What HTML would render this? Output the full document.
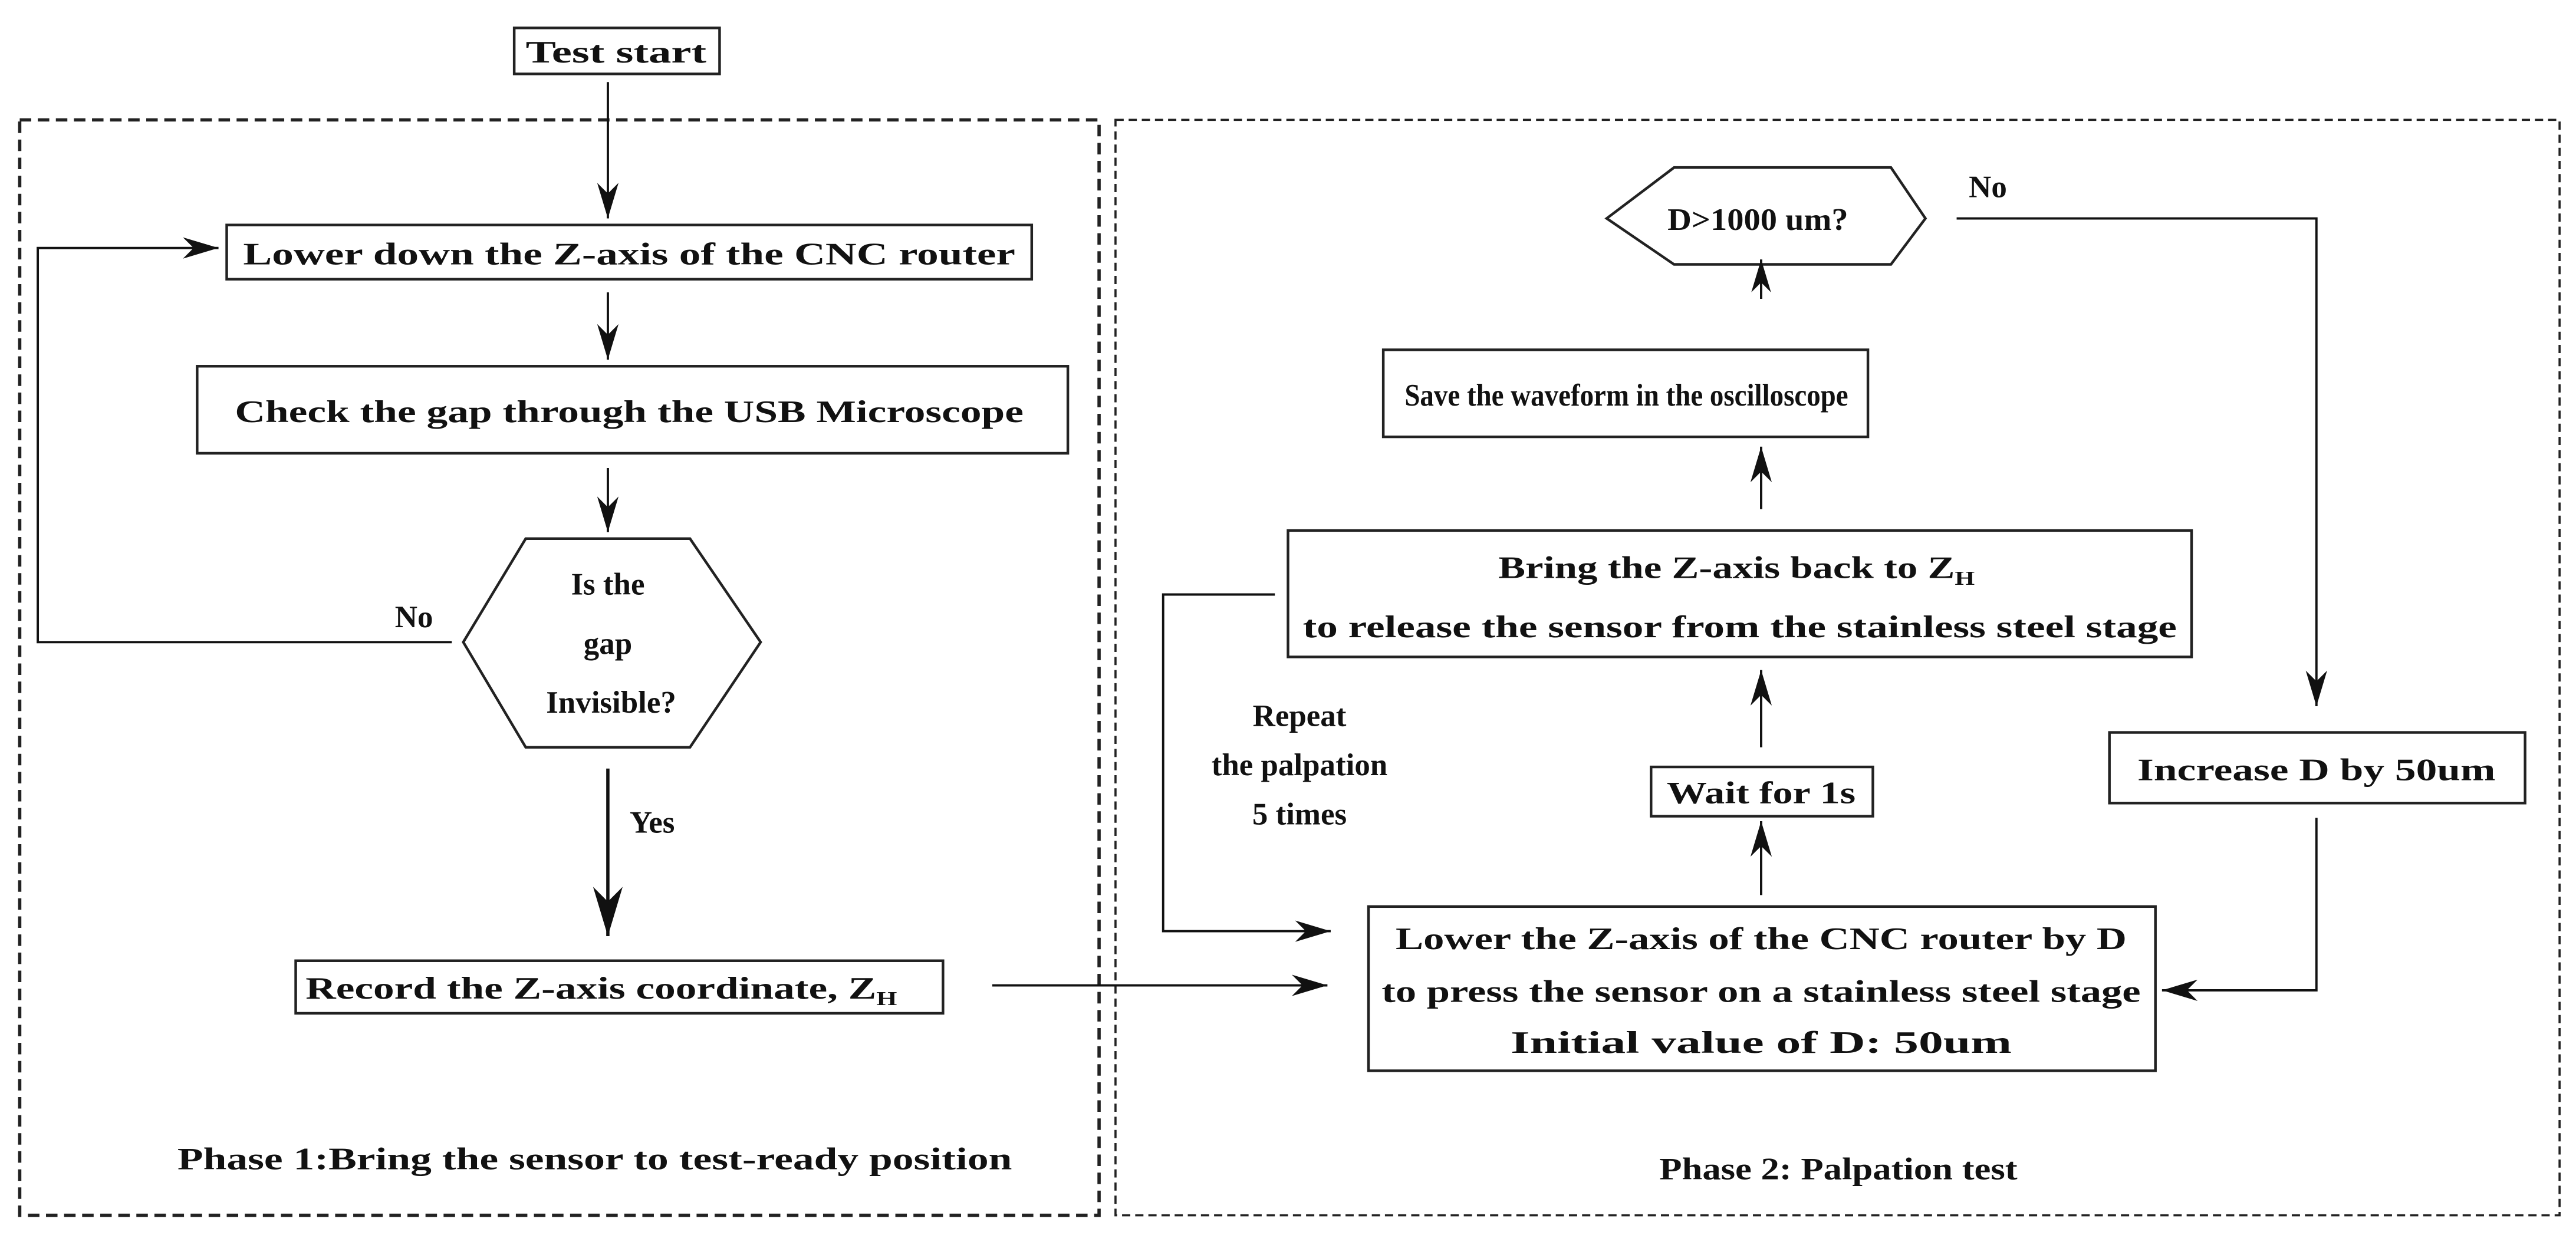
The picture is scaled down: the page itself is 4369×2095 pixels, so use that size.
<!DOCTYPE html>
<html><head><meta charset="utf-8"><style>
html,body{margin:0;padding:0;background:#fff;}
svg{display:block;}
text{font-family:"Liberation Serif",serif;font-weight:bold;fill:#111;}
</style></head><body>
<svg width="4369" height="2095" viewBox="0 0 1568 752" preserveAspectRatio="none" xmlns="http://www.w3.org/2000/svg">
<defs>
<marker id="a" viewBox="0 0 20 12" refX="20" refY="6" markerWidth="20" markerHeight="12" markerUnits="userSpaceOnUse" orient="auto"><path d="M0,0 L20,6 L0,12 L6,6 Z" fill="#111"/></marker>
<marker id="b" viewBox="0 0 20 12" refX="20" refY="6" markerWidth="22" markerHeight="13" markerUnits="userSpaceOnUse" orient="auto"><path d="M0,0 L20,6 L0,12 L6,6 Z" fill="#111"/></marker>
<marker id="c" viewBox="0 0 20 12" refX="20" refY="6" markerWidth="30" markerHeight="18" markerUnits="userSpaceOnUse" orient="auto"><path d="M0,0 L20,6 L0,12 L6,6 Z" fill="#111"/></marker>
</defs>
<g fill="none" stroke="#222">
<rect x="12" y="73" width="657" height="667" stroke-width="2" stroke-dasharray="7,4"/>
<rect x="679" y="73" width="879" height="667" stroke-width="1.3" stroke-dasharray="5,3"/>
<g stroke-width="1.6">
<rect x="313" y="17" width="125" height="28"/>
<rect x="138" y="137" width="490" height="33"/>
<rect x="120" y="223" width="530" height="53"/>
<polygon points="320,328 420,328 463,391 420,455 320,455 282,391"/>
<rect x="180" y="585" width="394" height="32"/>
<polygon points="1019,102 1151,102 1172,133 1151,161 1019,161 978,133"/>
<rect x="842" y="213" width="295" height="53"/>
<rect x="784" y="323" width="550" height="77"/>
<rect x="1005" y="467" width="135" height="30"/>
<rect x="833" y="552" width="479" height="100"/>
<rect x="1284" y="446" width="253" height="43"/>
</g>
<g stroke="#111" stroke-width="1.4">
<line x1="370" y1="50" x2="370" y2="133" marker-end="url(#b)"/>
<polyline points="275,391 23,391 23,151 133,151" marker-end="url(#b)"/>
<line x1="370" y1="178" x2="370" y2="219" marker-end="url(#b)"/>
<line x1="370" y1="285" x2="370" y2="324" marker-end="url(#b)"/>
<line x1="370" y1="468" x2="370" y2="570" stroke-width="2" marker-end="url(#c)"/>
<line x1="604" y1="600" x2="808" y2="600" marker-end="url(#b)"/>
<polyline points="1191,133 1410,133 1410,430" marker-end="url(#b)"/>
<line x1="1072" y1="182" x2="1072" y2="158" marker-end="url(#a)"/>
<line x1="1072" y1="310" x2="1072" y2="272" marker-end="url(#b)"/>
<polyline points="776,362 708,362 708,567 810,567" marker-end="url(#b)"/>
<line x1="1072" y1="455" x2="1072" y2="408" marker-end="url(#b)"/>
<line x1="1072" y1="545" x2="1072" y2="500" marker-end="url(#b)"/>
<polyline points="1410,498 1410,603 1316,603" marker-end="url(#b)"/>
</g>
</g>
<g font-size="19" text-anchor="middle">
<text x="375" y="38" textLength="110" lengthAdjust="spacingAndGlyphs">Test start</text>
<text x="383" y="161" textLength="470" lengthAdjust="spacingAndGlyphs">Lower down the Z-axis of the CNC router</text>
<text x="383" y="257" textLength="480" lengthAdjust="spacingAndGlyphs">Check the gap through the USB Microscope</text>
<text x="370" y="362">Is the</text>
<text x="370" y="398">gap</text>
<text x="372" y="434">Invisible?</text>
<text x="252" y="382">No</text>
<text x="397" y="507">Yes</text>
<text x="366" y="608" textLength="360" lengthAdjust="spacingAndGlyphs">Record the Z-axis coordinate, Z<tspan font-size="12" dy="4">H</tspan></text>
<text x="362" y="712" textLength="508" lengthAdjust="spacingAndGlyphs">Phase 1:Bring the sensor to test-ready position</text>
<text x="1070" y="140" textLength="110" lengthAdjust="spacingAndGlyphs">D&gt;1000 um?</text>
<text x="1210" y="120">No</text>
<text x="990" y="247" textLength="270" lengthAdjust="spacingAndGlyphs">Save the waveform in the oscilloscope</text>
<text x="1057" y="352" textLength="290" lengthAdjust="spacingAndGlyphs">Bring the Z-axis back to Z<tspan font-size="12" dy="4">H</tspan></text>
<text x="1059" y="388" textLength="532" lengthAdjust="spacingAndGlyphs">to release the sensor from the stainless steel stage</text>
<text x="791" y="442">Repeat</text>
<text x="791" y="472">the palpation</text>
<text x="791" y="502">5 times</text>
<text x="1072" y="489" textLength="115" lengthAdjust="spacingAndGlyphs">Wait for 1s</text>
<text x="1072" y="578" textLength="445" lengthAdjust="spacingAndGlyphs">Lower the Z-axis of the CNC router by D</text>
<text x="1072" y="610" textLength="462" lengthAdjust="spacingAndGlyphs">to press the sensor on a stainless steel stage</text>
<text x="1072" y="641" textLength="305" lengthAdjust="spacingAndGlyphs">Initial value of D: 50um</text>
<text x="1410" y="475" textLength="218" lengthAdjust="spacingAndGlyphs">Increase D by 50um</text>
<text x="1119" y="718" textLength="218" lengthAdjust="spacingAndGlyphs">Phase 2: Palpation test</text>
</g>
</svg>
</body></html>
